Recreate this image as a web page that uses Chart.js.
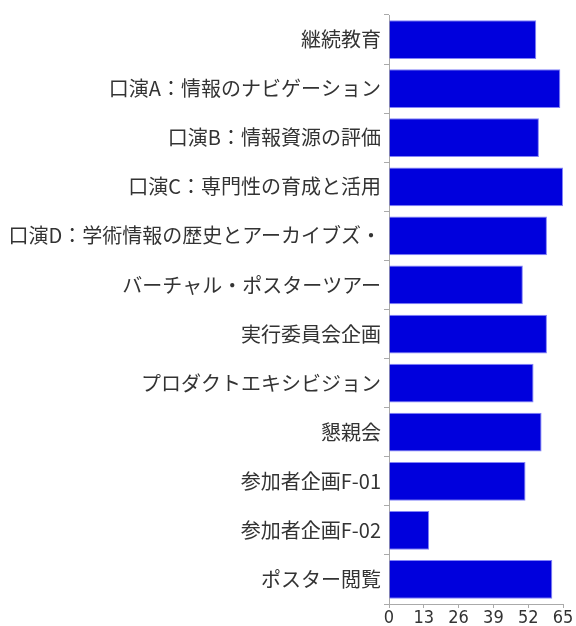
<!DOCTYPE html>
<html>
<head>
<meta charset="utf-8">
<script src="https://cdn.jsdelivr.net/npm/chart.js@4"></script>
<style>
  html, body { margin: 0; padding: 0; background: #fff; }
  #wrap { width: 576px; height: 626px; }
</style>
</head>
<body>
<div id="wrap"><canvas id="chart"></canvas></div>
<script>
const categories = [
    "継続教育",
    "口演A：情報のナビゲーション",
    "口演B：情報資源の評価",
    "口演C：専門性の育成と活用",
    "口演D：学術情報の歴史とアーカイブズ・",
    "バーチャル・ポスターツアー",
    "実行委員会企画",
    "プロダクトエキシビジョン",
    "懇親会",
    "参加者企画F-01",
    "参加者企画F-02",
    "ポスター閲覧"
]
const counts = [55, 64, 56, 65, 59, 50, 59, 54, 57, 51, 15, 61]
const xTicks = [0, 13, 26, 39, 52, 65]

new Chart(document.getElementById("chart"), {
    type: "bar",
    data: {
        labels: categories,
        datasets: [
            {
                data: counts,
                backgroundColor: "#0000dd",
                borderColor: "rgba(100, 100, 245, 0.8)",
                borderWidth: 1,
                barPercentage: 0.79,
                categoryPercentage: 1,
            },
        ],
    },
    options: {
        indexAxis: "y",
        responsive: true,
        maintainAspectRatio: false,
        animation: false,
        layout: { padding: { top: 11, right: 13, left: 0, bottom: 0 } },
        plugins: {
            legend: { display: false },
            tooltip: { enabled: false },
        },
        scales: {
            x: {
                min: 0,
                max: 65,
                afterBuildTicks: axis => {
                    axis.ticks = xTicks.map(v => ({ value: v }))
                },
                afterFit: axis => { axis.height = 22 },
                grid: { drawOnChartArea: false, color: "#aaa", tickLength: 4 },
                border: { color: "#aaa" },
                ticks: {
                    color: "#333",
                    padding: 0,
                    maxRotation: 0,
                    font: { family: "'DejaVu Sans Condensed', 'Roboto', sans-serif", size: 18 },
                },
            },
            y: {
                afterFit: axis => { axis.width = 389 },
                grid: { drawOnChartArea: false, color: "#aaa", tickLength: 5 },
                border: { color: "#aaa" },
                ticks: {
                    color: "#333",
                    padding: 3,
                    font: { family: "'Noto Sans CJK JP', sans-serif", size: 20 },
                },
            },
        },
    },
})
</script>
</body>
</html>
